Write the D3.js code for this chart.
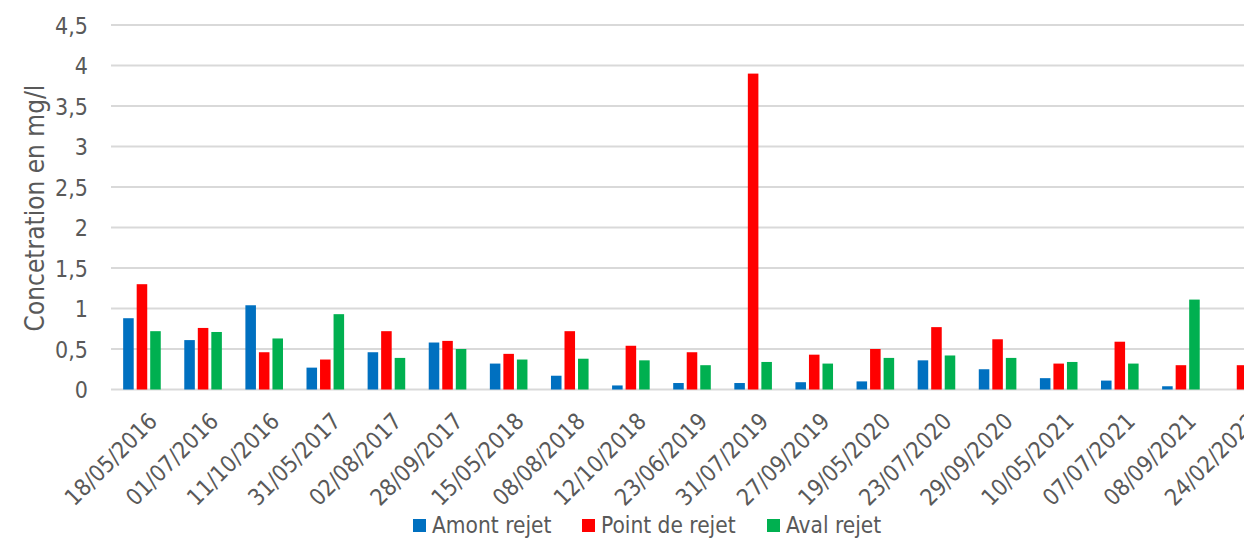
<!DOCTYPE html>
<html>
<head>
<meta charset="utf-8">
<script src="https://cdn.jsdelivr.net/npm/d3@7"></script>
<style>
  body { margin: 0; background: #fff; }
  svg { display: block; overflow: hidden; }
</style>
</head>
<body>
<div id="chart"></div>
<script>
// data
var dates = ["18/05/2016", "01/07/2016", "11/10/2016", "31/05/2017", "02/08/2017", "28/09/2017",
  "15/05/2018", "08/08/2018", "12/10/2018", "23/06/2019", "31/07/2019", "27/09/2019",
  "19/05/2020", "23/07/2020", "29/09/2020", "10/05/2021", "07/07/2021", "08/09/2021", "24/02/2022"];
var amont = [0.88, 0.61, 1.04, 0.27, 0.46, 0.58, 0.32, 0.17, 0.05, 0.08, 0.08, 0.09, 0.10, 0.36, 0.25, 0.14, 0.11, 0.04, null];
var point = [1.30, 0.76, 0.46, 0.37, 0.72, 0.60, 0.44, 0.72, 0.54, 0.46, 3.90, 0.43, 0.50, 0.77, 0.62, 0.32, 0.59, 0.30, 0.30];
var aval  = [0.72, 0.71, 0.63, 0.93, 0.39, 0.50, 0.37, 0.38, 0.36, 0.30, 0.34, 0.32, 0.39, 0.42, 0.39, 0.34, 0.32, 1.11, null];
var seriesNames = ["Amont rejet", "Point de rejet", "Aval rejet"];
var seriesColors = ["#0070C0", "#FF0000", "#00B050"];
var yTicks = [0, 0.5, 1, 1.5, 2, 2.5, 3, 3.5, 4, 4.5];

var width = 1244, height = 538;
var font = "'DejaVu Sans Condensed', 'DejaVu Sans', sans-serif";
var textColor = "#595959";

var series = [amont, point, aval];

//scales
var x0 = d3.scaleBand().domain(dates).range([111.4, 1272.6]).padding(0);
var x1 = d3.scaleBand().domain(seriesNames).range([-18.8, 18.8]).paddingInner(0.22);
var y = d3.scaleLinear().domain([0, 4.5]).range([389.5, 25]);

//create svg
var svg = d3.select("#chart")
  .append("svg")
  .attr("width", width)
  .attr("height", height);

// gridlines
svg.append("g")
  .selectAll("line")
  .data(yTicks)
  .enter()
  .append("line")
  .attr("x1", 111)
  .attr("x2", width)
  .attr("y1", d => y(d))
  .attr("y2", d => y(d))
  .attr("stroke", "#D9D9D9")
  .attr("stroke-width", 1.8);

// y axis labels
var yAxis = d3.axisLeft(y).tickValues(yTicks).tickSize(0).tickPadding(0)
  .tickFormat(d => String(d).replace(".", ","));
var gy = svg.append("g").attr("transform", "translate(88,0)").call(yAxis);
gy.select(".domain").remove();
gy.selectAll("text")
  .attr("font-family", font)
  .attr("font-size", 23)
  .attr("fill", textColor)
  .attr("dy", "0.36em");

// y title
svg.append("text")
  .attr("transform", "translate(44,208) rotate(-90)")
  .attr("text-anchor", "middle")
  .attr("font-family", font)
  .attr("font-size", 26)
  .attr("fill", textColor)
  .text("Concetration en mg/l");

//create bars
var groups = svg.append("g")
  .selectAll("g")
  .data(dates)
  .enter()
  .append("g")
  .attr("transform", d => "translate(" + (x0(d) + x0.bandwidth() / 2) + ",0)");

groups.selectAll("rect")
  .data(function(d, i) {
    return seriesNames.map(function(s, j) { return { name: s, value: series[j][i], color: seriesColors[j] }; });
  })
  .enter()
  .filter(d => d.value != null)
  .append("rect")
  .attr("x", d => x1(d.name))
  .attr("width", x1.bandwidth())
  .attr("y", d => y(d.value))
  .attr("height", d => y(0) - y(d.value))
  .attr("fill", d => d.color);

// x axis labels, rotated
var xAxis = d3.axisBottom(x0).tickSize(0).tickPadding(0);
var gx = svg.append("g").call(xAxis);
gx.select(".domain").remove();
gx.selectAll(".tick text")
  .attr("font-family", font)
  .attr("font-size", 23)
  .attr("fill", textColor)
  .attr("text-anchor", "end")
  .attr("y", 0)
  .attr("dy", "0.72em")
  .attr("transform", "translate(5,411) rotate(-45)");

//legend
var legendX = [413, 582, 767];
var legend = svg.append("g")
  .selectAll("g")
  .data(seriesNames)
  .enter()
  .append("g")
  .attr("transform", (d, i) => "translate(" + legendX[i] + ",519)");

legend.append("rect")
  .attr("width", 13)
  .attr("height", 13)
  .attr("fill", (d, i) => seriesColors[i]);

legend.append("text")
  .attr("x", 19)
  .attr("y", 14)
  .attr("font-family", font)
  .attr("font-size", 22.5)
  .attr("fill", textColor)
  .text(d => d);
</script>
</body>
</html>
